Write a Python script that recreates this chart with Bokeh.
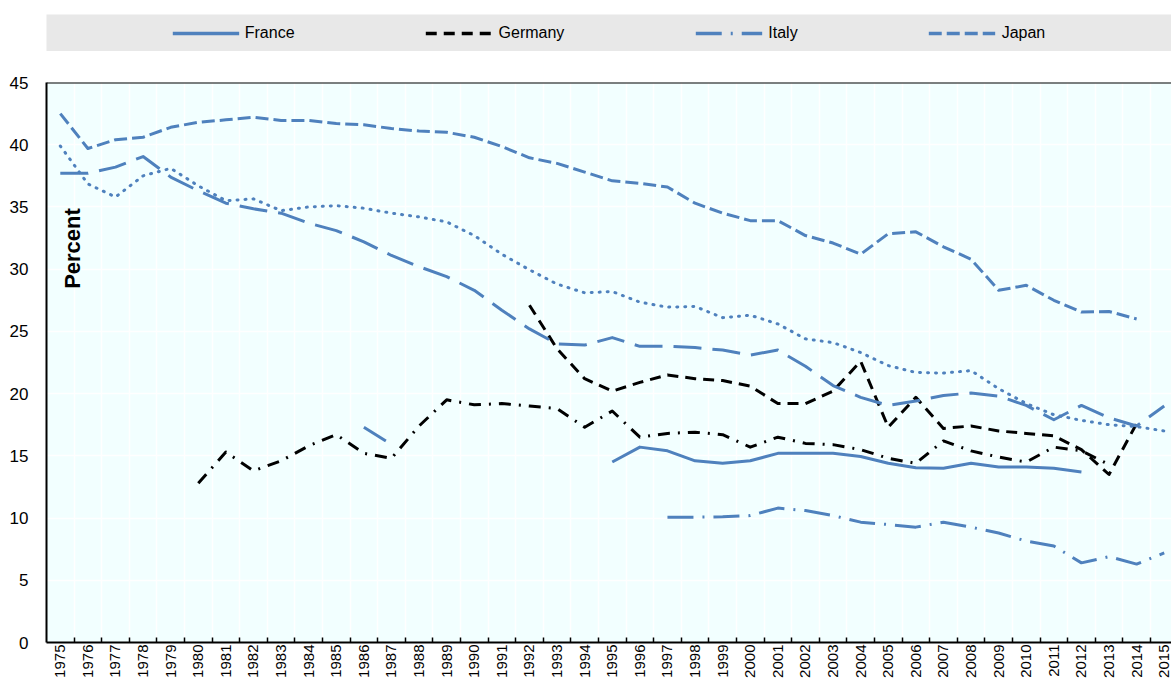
import math
import numpy as np
from bokeh.plotting import figure
from bokeh.models import Range1d, FixedTicker, Legend, LegendItem, Span, Label
from bokeh.layouts import column
from bokeh.embed import file_html
from bokeh.resources import INLINE

# ---------------- data ----------------
years = list(range(1975, 2016))
N = None

france = [N] * 20 + [14.5, 15.7, 15.4, 14.6, 14.4, 14.6, 15.2, 15.2, 15.2, 14.95,
                     14.4, 14.05, 14.0, 14.4, 14.1, 14.1, 14.0, 13.7] + [N] * 3

germany = [N] * 17 + [27.1, 23.6, 21.2, 20.2, 20.9, 21.5, 21.2, 21.05, 20.6, 19.2,
                      19.2, 20.2, 22.6, 17.3, 19.7, 17.2, 17.4, 17.0, 16.8, 16.6,
                      15.5, 13.5, 17.6] + [N]

italy = [N] * 11 + [17.3, 15.9] + [N] * 9 + [10.07, 10.07, 10.1, 10.2, 10.8, 10.6,
                                              10.2, 9.67, 9.48, 9.27, 9.67, 9.27,
                                              8.8, 8.15, 7.75, 6.4, 6.9, 6.3, 7.2]

japan = [42.5, 39.7, 40.4, 40.6, 41.4, 41.8, 42.0, 42.2, 41.95, 41.95,
         41.7, 41.6, 41.3, 41.1, 41.0, 40.6, 39.85, 38.95, 38.5, 37.8,
         37.1, 36.9, 36.6, 35.3, 34.5, 33.9, 33.9, 32.7, 32.1, 31.2,
         32.85, 33.0, 31.8, 30.8, 28.3, 28.7, 27.5, 26.55, 26.6, 26.0, N]

series_dotted = [39.9, 36.85, 35.8, 37.5, 38.1, 36.7, 35.5, 35.65, 34.7, 35.0,
                 35.1, 34.9, 34.5, 34.2, 33.8, 32.7, 31.2, 29.95, 28.8, 28.1,
                 28.2, 27.35, 26.95, 27.0, 26.1, 26.3, 25.6, 24.4, 24.1, 23.3,
                 22.25, 21.7, 21.65, 21.85, 20.4, 19.2, 18.3, 17.85, 17.5, 17.35, 17.0]

series_longdash = [37.7, 37.7, 38.2, 39.05, 37.4, 36.3, 35.3, 34.85, 34.5, 33.7,
                   33.1, 32.2, 31.1, 30.2, 29.4, 28.3, 26.7, 25.2, 24.0, 23.9,
                   24.5, 23.8, 23.8, 23.7, 23.5, 23.1, 23.5, 22.2, 20.65, 19.7,
                   19.05, 19.4, 19.85, 20.05, 19.8, 19.05, 17.9, 19.05, 18.05, 17.4, 19.0]

series_dashdot_black = [N] * 5 + [12.8, 15.3, 13.8, 14.6, 15.8, 16.7, 15.2, 14.8, 17.4, 19.5,
                                  19.1, 19.2, 19.0, 18.8, 17.3, 18.6, 16.5, 16.8, 16.9, 16.7,
                                  15.7, 16.5, 16.0, 15.9, 15.5, 14.8, 14.4, 16.2, 15.4, 14.9,
                                  14.5, 15.7, 15.4, 14.3] + [N] * 2

y_ticks = list(range(0, 50, 5))

# ---------------- styles ----------------
BLUE = "#4F81BD"
BG = "#F2FFFF"
FONT = "'Liberation Sans', Arial, sans-serif"

styles = [
    # name, values, color, dash, cap, legend
    ("France", france, BLUE, "solid", "butt", True),
    ("Germany", germany, "black", "11 7", "butt", True),
    ("Italy", italy, BLUE, "26 9 2 9", "butt", True),
    ("Japan", japan, BLUE, "13 5", "butt", True),
    ("dotted", series_dotted, BLUE, "1 7", "round", False),
    ("longdash", series_longdash, BLUE, "28 11", "butt", False),
    ("dashdot", series_dashdot_black, "black", "12 8 2 8", "butt", False),
]


def arr(v):
    return np.array([np.nan if x is None else x for x in v], dtype=float)


# ---------------- main plot ----------------
p = figure(frame_width=1126, frame_height=560,
           min_border_left=45, min_border_right=0, min_border_top=31, min_border_bottom=0,
           x_range=Range1d(1974.5, 2015.3), y_range=Range1d(0, 45),
           output_backend="svg", toolbar_location=None)
p.background_fill_color = BG
p.border_fill_color = "white"
p.outline_line_color = None

xt = FixedTicker(ticks=years, minor_ticks=[y + 0.5 for y in years])
p.xaxis.ticker = xt
p.xgrid.ticker = xt
p.xaxis.major_tick_in = 0
p.xaxis.major_tick_out = 0
p.xaxis.minor_tick_in = 5
p.xaxis.minor_tick_out = 0
p.xaxis.minor_tick_line_color = "black"
p.xaxis.minor_tick_line_width = 1.5
p.xaxis.axis_line_width = 2
p.xaxis.axis_line_color = "black"
p.xaxis.major_label_orientation = math.pi / 2
p.xaxis.major_label_standoff = 2
p.xaxis.major_label_text_font = FONT
p.xaxis.major_label_text_font_size = "15px"
p.xaxis.major_label_text_color = "black"
p.xgrid.grid_line_color = None
p.xgrid.minor_grid_line_color = "white"
p.xgrid.minor_grid_line_width = 1.5

yt = FixedTicker(ticks=y_ticks, minor_ticks=[])
p.yaxis.ticker = yt
p.ygrid.ticker = yt
p.yaxis.major_tick_in = 0
p.yaxis.major_tick_out = 0
p.yaxis.minor_tick_line_color = None
p.yaxis.axis_line_width = 2
p.yaxis.axis_line_color = "black"
p.yaxis.major_label_standoff = 18
p.yaxis.major_label_text_font = FONT
p.yaxis.major_label_text_font_size = "17px"
p.yaxis.major_label_text_color = "black"
p.ygrid.grid_line_color = "white"
p.ygrid.grid_line_width = 1.5

p.add_layout(Span(location=45, dimension="width", line_color="black", line_width=2))

for name, vals, color, dash, cap, _ in styles:
    p.line(years, arr(vals), line_color=color, line_width=3, line_dash=dash,
           line_cap=cap, line_join="round")

p.add_layout(Label(x=1975.44, y=31.66, text="Percent", angle=math.pi / 2,
                   text_align="center", text_baseline="middle",
                   text_font=FONT, text_font_style="bold",
                   text_font_size="22px", text_color="black"))

# ---------------- legend bar ----------------
lg = figure(frame_width=1125, frame_height=37,
            min_border_left=46, min_border_right=0, min_border_top=14, min_border_bottom=0,
            x_range=Range1d(0, 1), y_range=Range1d(0, 1),
            x_axis_location=None, y_axis_location=None,
            output_backend="svg", toolbar_location=None)
lg.grid.visible = False
lg.outline_line_color = None
lg.background_fill_color = "#E8E8E8"
lg.border_fill_color = "white"

items = []
for name, vals, color, dash, cap, in_leg in styles:
    if not in_leg:
        continue
    # legend sample only: points lie outside the visible range
    r = lg.line(x=[0, 1], y=[-5, -5], line_color=color, line_width=3.5,
                line_dash=dash, line_cap=cap)
    items.append(LegendItem(label=name, renderers=[r]))

legend = Legend(items=items, orientation="horizontal", location="center",
                glyph_width=67, glyph_height=20, label_standoff=6, spacing=131,
                padding=0, margin=0, background_fill_alpha=0, border_line_color=None,
                label_text_font=FONT, label_text_font_size="16px", label_text_color="black")
lg.add_layout(legend, "center")

layout = column(lg, p, spacing=0)

open("out.html", "w").write(file_html(layout, INLINE))
